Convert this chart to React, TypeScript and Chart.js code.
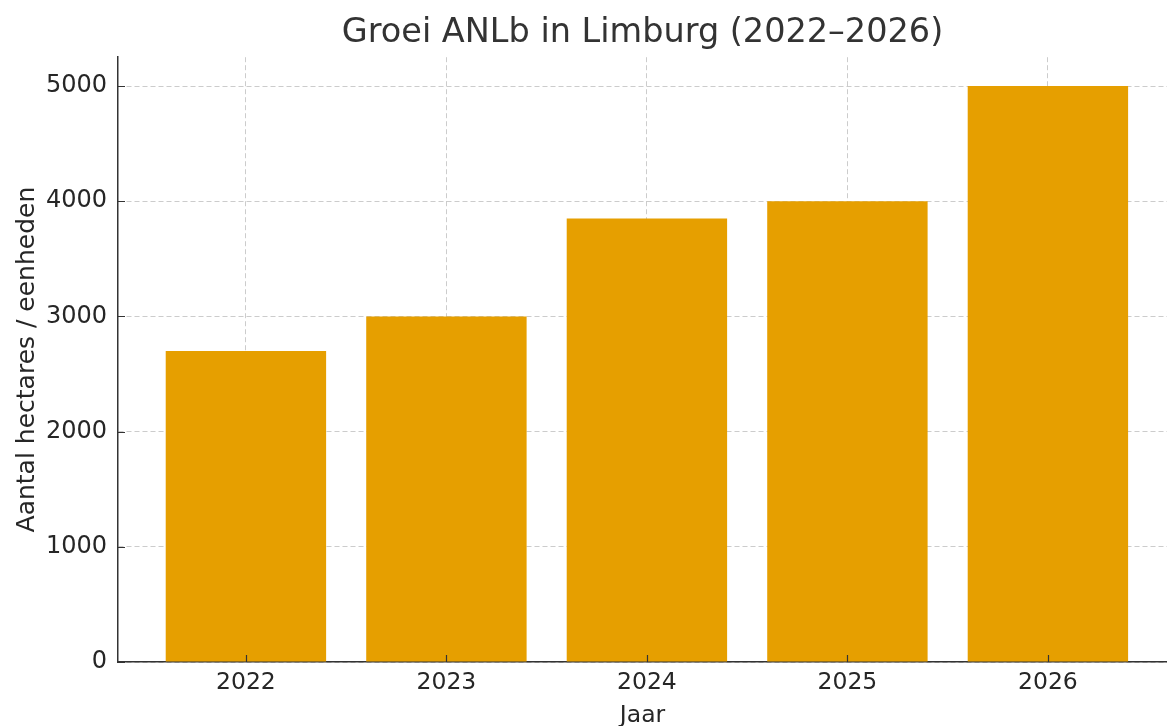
import React, { useEffect, useRef } from "react";
import { Chart, registerables } from "chart.js";

Chart.register(...registerables);

const years = ["2022", "2023", "2024", "2025", "2026"];
const values = [2700, 3000, 3850, 4000, 5000];
const yTicks = [0, 1000, 2000, 3000, 4000, 5000];
const titleText = "Groei ANLb in Limburg (2022–2026)";
const xTitle = "Jaar";
const yTitle = "Aantal hectares / eenheden";

const FONT = "'DejaVu Sans', sans-serif";
const BAR = "#E69F00";
const DARK = "#333333";
const GRID = "rgba(176,176,176,0.65)";

const inwardTicks = {
  id: "inwardTicks",
  afterDraw(chart: any) {
    const { ctx, chartArea, scales } = chart;
    ctx.save();
    ctx.strokeStyle = DARK;
    ctx.lineWidth = 1.2;
    ctx.setLineDash([]);
    ctx.beginPath();
    yTicks.forEach((v) => {
      const y = Math.round(scales.y.getPixelForValue(v)) + 0.5;
      ctx.moveTo(chartArea.left, y);
      ctx.lineTo(chartArea.left + 7, y);
    });
    years.forEach((_, i) => {
      const x = Math.round(scales.x.getPixelForValue(i)) + 0.5;
      ctx.moveTo(x, chartArea.bottom);
      ctx.lineTo(x, chartArea.bottom - 7);
    });
    ctx.stroke();
    ctx.restore();
  },
};

export default function App() {
  const ref = useRef<HTMLCanvasElement | null>(null);
  useEffect(() => {
    document.body.style.margin = "0";
    const canvas = ref.current;
    if (!canvas) return;
    const chart = new Chart(canvas, {
      type: "bar",
      data: {
        datasets: [
          {
            data: values.map((v, i) => ({ x: i, y: v })),
            backgroundColor: BAR,
            borderWidth: 0,
            barPercentage: 0.8,
            categoryPercentage: 1.0,
          },
        ],
      },
      options: {
        animation: false,
        responsive: true,
        maintainAspectRatio: false,
        layout: { padding: { left: 0, right: 0, top: 0, bottom: 0 } },
        plugins: {
          legend: { display: false },
          tooltip: { enabled: false },
          title: {
            display: true,
            text: titleText,
            fullSize: false,
            color: DARK,
            font: { family: FONT, size: 33.5, weight: "normal", lineHeight: 1.2 },
            padding: { top: 13, bottom: 4 },
          },
        },
        scales: {
          x: {
            type: "linear",
            offset: false,
            min: -0.638,
            max: 4.594,
            z: 1,
            afterBuildTicks: (scale: any) => {
              scale.ticks = years.map((_, i) => ({ value: i }));
            },
            afterFit: (scale: any) => {
              scale.height = 64;
            },
            ticks: {
              autoSkip: false,
              maxRotation: 0,
              color: "#262626",
              font: { family: FONT, size: 23.5 },
              padding: 7,
              callback: (v: any) => years[v as number] ?? "",
            },
            grid: {
              display: true,
              offset: false,
              drawTicks: false,
              color: GRID,
              lineWidth: 1,
            },
            border: { display: true, color: DARK, width: 1.5, dash: [5, 3] },
            title: {
              display: true,
              text: xTitle,
              color: "#262626",
              font: { family: FONT, size: 23.5, lineHeight: 0.9 },
              padding: { top: 0, bottom: 0 },
            },
          },
          y: {
            min: 0,
            max: 5250,
            z: 1,
            afterBuildTicks: (scale: any) => {
              scale.ticks = yTicks.map((v) => ({ value: v }));
            },
            afterFit: (scale: any) => {
              scale.width = 118;
            },
            ticks: {
              color: "#262626",
              font: { family: FONT, size: 24 },
              padding: 11,
              callback: (v: any) => String(v),
            },
            grid: {
              display: true,
              drawTicks: false,
              color: GRID,
              lineWidth: 1,
            },
            border: { display: true, color: DARK, width: 1.5, dash: [5, 3] },
            title: {
              display: true,
              text: yTitle,
              color: "#262626",
              font: { family: FONT, size: 25 },
              padding: { top: 12, bottom: 0 },
            },
          },
        },
      } as any,
      plugins: [inwardTicks],
    });
    return () => chart.destroy();
  }, []);
  return (
    <div style={{ position: "absolute", left: 0, top: 0, width: 1167, height: 726 }}>
      <canvas ref={ref} />
    </div>
  );
}
